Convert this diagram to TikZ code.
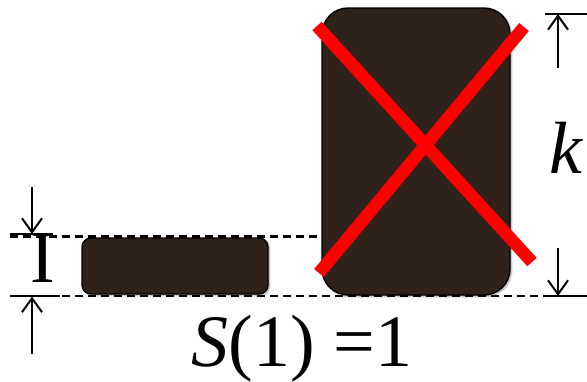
\documentclass[tikz,border=0pt]{standalone}
\usepackage{fontspec}
\setmainfont{Liberation Serif}
\usetikzlibrary{arrows.meta,shadows.blur}
\definecolor{boxbrown}{HTML}{2F221A}
\definecolor{xred}{HTML}{FF0000}
\tikzset{
  block/.style={draw=black, line width=1.4pt, fill=boxbrown, inner sep=0pt,
    blur shadow={shadow xshift=1.5pt, shadow yshift=-1.5pt, shadow blur steps=6, shadow opacity=35}},
  guide/.style={line width=2.2pt, dash pattern=on 8pt off 5pt},
  tick/.style={line width=2pt},
  dimarrow/.style={line width=2pt, -{Straight Barb[length=14pt,width=20pt,line width=2pt]}},
  cross/.style={xred, line width=12.5pt},
  bigtext/.style={inner sep=0pt, font=\fontsize{74}{74}\selectfont}
}
\begin{document}
\begin{tikzpicture}[x=1pt,y=-1pt]
\useasboundingbox (0,0) rectangle (587,381);
% guide lines
\coordinate (g1a) at (10,236.5);
\coordinate (g1b) at (322,236.5);
\coordinate (g2a) at (10,296);
\coordinate (g2b) at (550,296);
\draw[guide] (g1a) -- (g1b);
\draw[guide] (g2a) -- (g2b);
% boxes
\node[block, rounded corners=9pt, minimum width=186pt, minimum height=56pt] (small) at (175,266) {};
\node[block, rounded corners=26pt, minimum width=188pt, minimum height=287pt] (tall) at (416,151.5) {};
% red cross
\coordinate (c1a) at (317,26);
\coordinate (c1b) at (532,262);
\coordinate (c2a) at (524,27);
\coordinate (c2b) at (319,273);
\draw[cross] (c1a) -- (c1b);
\draw[cross] (c2a) -- (c2b);
% left dimension
\coordinate (lt1) at (10,234);
\coordinate (lt2) at (53,234);
\coordinate (lb1) at (10,296);
\coordinate (lb2) at (60,296);
\draw[tick] (lt1) -- (lt2);
\draw[tick] (lb1) -- (lb2);
\coordinate (la0) at (32,187);
\coordinate (la1) at (32,234);
\coordinate (lc0) at (32,354);
\coordinate (lc1) at (32,296.5);
\draw[dimarrow] (la0) -- (la1);
\draw[dimarrow] (lc0) -- (lc1);
\node[bigtext, anchor=base] (one) at (43,282) {I};
% right dimension
\coordinate (rt1) at (545,14);
\coordinate (rt2) at (587,14);
\coordinate (rb1) at (548,296);
\coordinate (rb2) at (587,296);
\draw[tick] (rt1) -- (rt2);
\draw[tick] (rb1) -- (rb2);
\coordinate (ra0) at (558,68);
\coordinate (ra1) at (558,14);
\coordinate (rc0) at (558,248);
\coordinate (rc1) at (558,296);
\draw[dimarrow] (ra0) -- (ra1);
\draw[dimarrow] (rc0) -- (rc1);
\node[bigtext, anchor=base] (k) at (566,173) {\itshape k};
% formula
\node[bigtext, anchor=base] (formula) at (302,366) {{\itshape S}(1) =1};
\end{tikzpicture}
\end{document}
